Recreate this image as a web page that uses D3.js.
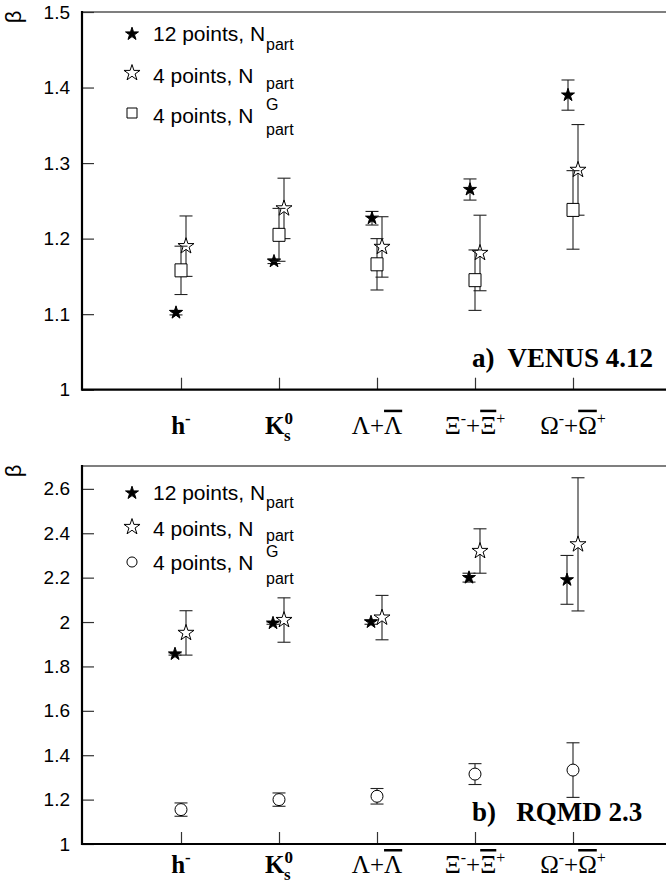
<!DOCTYPE html>
<html>
<head>
<meta charset="utf-8">
<script src="https://cdn.jsdelivr.net/npm/d3@7"></script>
<style>
  body { margin: 0; background: #fff; }
  svg { display: block; }
  .tick text { font-family: "Liberation Sans", Arial, sans-serif; font-size: 19px; fill: #000; }
  .leg { font-family: "Liberation Sans", Arial, sans-serif; font-size: 21px; fill: #000; }
  .cat { font-family: "Liberation Serif", "Times New Roman", serif; font-size: 25px; fill: #000; }
  .panel { font-family: "Liberation Serif", "Times New Roman", serif; font-size: 27px; font-weight: bold; white-space: pre; }
</style>
</head>
<body>
<div id="wrapper"></div>
<script>
const categories = ["h", "K", "Lambda", "Xi", "Omega"];

// panel a) VENUS 4.12
const venus12 = [1.102, 1.170, 1.227, 1.265, 1.390];
const venus12Err = [0.003, 0.003, 0.009, 0.014, 0.020];
const venus4 = [1.190, 1.240, 1.189, 1.181, 1.291];
const venus4Err = [0.040, 0.040, 0.040, 0.050, 0.060];
const venus4G = [1.158, 1.205, 1.166, 1.145, 1.238];
const venus4GErr = [0.032, 0.035, 0.034, 0.040, 0.052];
const venusTicks = [1, 1.1, 1.2, 1.3, 1.4, 1.5];

// panel b) RQMD 2.3
const rqmd12 = [1.856, 1.995, 2.000, 2.200, 2.190];
const rqmd12Err = [0.005, 0.005, 0.010, 0.020, 0.110];
const rqmd4 = [1.951, 2.009, 2.020, 2.320, 2.350];
const rqmd4Err = [0.100, 0.100, 0.100, 0.100, 0.300];
const rqmd4G = [1.155, 1.200, 1.215, 1.315, 1.333];
const rqmd4GErr = [0.030, 0.030, 0.035, 0.047, 0.123];
const rqmdTicks = [1, 1.2, 1.4, 1.6, 1.8, 2, 2.2, 2.4, 2.6];

const width = 666, height = 885;
const axisX = 82;

const svg = d3.select("#wrapper")
    .append("svg")
    .attr("width", width)
    .attr("height", height);

const xScale = d3.scalePoint()
    .domain(categories)
    .range([181, 573]);

const filledStar = d3.symbol().type(d3.symbolStar).size(52);
const openStar = d3.symbol().type(d3.symbolStar).size(80);

function drawPanel(opt) {
    const g = svg.append("g");
    const yScale = d3.scaleLinear().domain(opt.domain).range([opt.bottom, opt.top]);

    // frame: top line
    g.append("line")
        .attr("x1", axisX).attr("x2", width)
        .attr("y1", opt.top).attr("y2", opt.top)
        .attr("stroke", "#555").attr("stroke-width", 1.6);

    // y axis
    const yAxis = g.append("g")
        .attr("transform", `translate(${axisX},0)`)
        .call(d3.axisLeft(yScale).tickValues(opt.ticks).tickSize(-12).tickPadding(12)
            .tickFormat(d => +d.toFixed(1)));
    yAxis.select(".domain").remove();
    yAxis.selectAll(".tick line").attr("stroke", "#333").attr("stroke-width", 1.2);
    g.append("line")
        .attr("x1", axisX).attr("x2", axisX)
        .attr("y1", opt.top - 1).attr("y2", opt.bottom + 1)
        .attr("stroke", "#000").attr("stroke-width", 2.2);

    // x axis
    const xAxis = g.append("g")
        .attr("transform", `translate(0,${opt.bottom})`)
        .call(d3.axisBottom(xScale).tickSize(-12).tickFormat(""));
    xAxis.select(".domain").remove();
    xAxis.selectAll(".tick line").attr("stroke", "#333").attr("stroke-width", 1.2);
    g.append("line")
        .attr("x1", axisX).attr("x2", width)
        .attr("y1", opt.bottom).attr("y2", opt.bottom)
        .attr("stroke", "#000").attr("stroke-width", 2.2);

    // beta label
    g.append("text")
        .attr("transform", `translate(21,${opt.top + 5}) rotate(-90)`)
        .attr("text-anchor", "middle")
        .style("font-family", "Liberation Sans, Arial, sans-serif")
        .style("font-size", "22px")
        .text("β");

    // series
    opt.series.forEach(s => {
        const sg = g.append("g");
        const pts = categories.map((c, i) => ({ x: xScale(c) + s.dx, y: s.values[i], e: s.errors[i] }));
        // error bars
        const eb = sg.selectAll(".eb").data(pts).join("g");
        eb.append("line")
            .attr("x1", d => d.x).attr("x2", d => d.x)
            .attr("y1", d => yScale(d.y - d.e)).attr("y2", d => yScale(d.y + d.e))
            .attr("stroke", "#222").attr("stroke-width", 1.1);
        [-1, 1].forEach(sign => {
            eb.append("line")
                .attr("x1", d => d.x - 6.5).attr("x2", d => d.x + 6.5)
                .attr("y1", d => yScale(d.y + sign * d.e)).attr("y2", d => yScale(d.y + sign * d.e))
                .attr("stroke", "#222").attr("stroke-width", 1.1);
        });
        // markers
        sg.selectAll(".mk").data(pts).join("path")
            .attr("transform", d => `translate(${d.x},${yScale(d.y)})`)
            .attr("d", s.shape)
            .attr("fill", s.fill)
            .attr("stroke", "#000")
            .attr("stroke-width", 1);
    });

    // legend
    const lg = g.append("g");
    opt.legend.forEach((l, i) => {
        lg.append("path")
            .attr("transform", `translate(132,${l.my})`)
            .attr("d", l.shape)
            .attr("fill", l.fill)
            .attr("stroke", "#000")
            .attr("stroke-width", 1);
        lg.append("text").attr("class", "leg")
            .attr("x", 153).attr("y", l.ty)
            .text(l.label);
        if (l.sup) {
            lg.append("text").attr("class", "leg")
                .attr("x", 266).attr("y", l.supY)
                .style("font-size", "16px")
                .text(l.sup);
        }
        lg.append("text").attr("class", "leg")
            .attr("x", 266).attr("y", l.subY)
            .style("font-size", "16px")
            .text("part");
    });

    // category labels
    categories.forEach(c => {
        const t = g.append("text").attr("class", "cat")
            .attr("x", xScale(c)).attr("y", opt.bottom + opt.labelGap)
            .attr("text-anchor", "middle");
        if (c === "h") {
            t.style("font-weight", "bold");
            t.append("tspan").text("h");
            t.append("tspan").attr("dy", -10).style("font-size", "17px").text("-");
        } else if (c === "K") {
            t.style("font-weight", "bold");
            t.append("tspan").text("K");
            t.append("tspan").attr("dy", -10).style("font-size", "17px").text("0");
            t.append("tspan").attr("dx", -9).attr("dy", 17).style("font-size", "17px").text("s");
        } else {
            const sym = c === "Lambda" ? "Λ" : c === "Xi" ? "Ξ" : "Ω";
            t.append("tspan").text(sym);
            if (c !== "Lambda") t.append("tspan").attr("dy", -10).style("font-size", "16px").text("-");
            t.append("tspan").attr("dy", c !== "Lambda" ? 10 : 0).text("+");
            t.append("tspan").style("text-decoration", "overline").text(sym);
            if (c !== "Lambda") t.append("tspan").attr("dy", -10).style("font-size", "16px").text("+");
        }
    });

    // panel label
    g.append("text").attr("class", "panel")
        .attr("x", 472).attr("y", opt.bottom - 23)
        .text(opt.title);
}

drawPanel({
    domain: [1, 1.5], top: 12, bottom: 389.7, ticks: venusTicks, labelGap: 44,
    title: "a)  VENUS 4.12",
    series: [
        { values: venus12, errors: venus12Err, dx: -5, shape: filledStar, fill: "#000" },
        { values: venus4, errors: venus4Err, dx: 5, shape: openStar, fill: "#fff" },
        { values: venus4G, errors: venus4GErr, dx: 0, shape: "M-6,-6.5H6V6.5H-6Z", fill: "#fff" }
    ],
    legend: [
        { shape: filledStar, fill: "#000", my: 34, ty: 41, label: "12 points, N", subY: 50 },
        { shape: openStar, fill: "#fff", my: 73, ty: 83, label: "4 points, N", subY: 89 },
        { shape: "M-5,-5H5V5H-5Z", fill: "#fff", my: 113, ty: 123, label: "4 points, N", sup: "G", supY: 110, subY: 135 }
    ]
});

drawPanel({
    domain: [1, 2.703], top: 466, bottom: 844, ticks: rqmdTicks, labelGap: 29,
    title: "b)   RQMD 2.3",
    series: [
        { values: rqmd12, errors: rqmd12Err, dx: -6, shape: filledStar, fill: "#000" },
        { values: rqmd4, errors: rqmd4Err, dx: 5, shape: openStar, fill: "#fff" },
        { values: rqmd4G, errors: rqmd4GErr, dx: 0, shape: d3.symbol().type(d3.symbolCircle).size(113), fill: "#fff" }
    ],
    legend: [
        { shape: filledStar, fill: "#000", my: 493, ty: 500, label: "12 points, N", subY: 508 },
        { shape: openStar, fill: "#fff", my: 527, ty: 536, label: "4 points, N", subY: 541 },
        { shape: d3.symbol().type(d3.symbolCircle).size(80), fill: "#fff", my: 562, ty: 570, label: "4 points, N", sup: "G", supY: 557, subY: 584 }
    ]
});
</script>
</body>
</html>
